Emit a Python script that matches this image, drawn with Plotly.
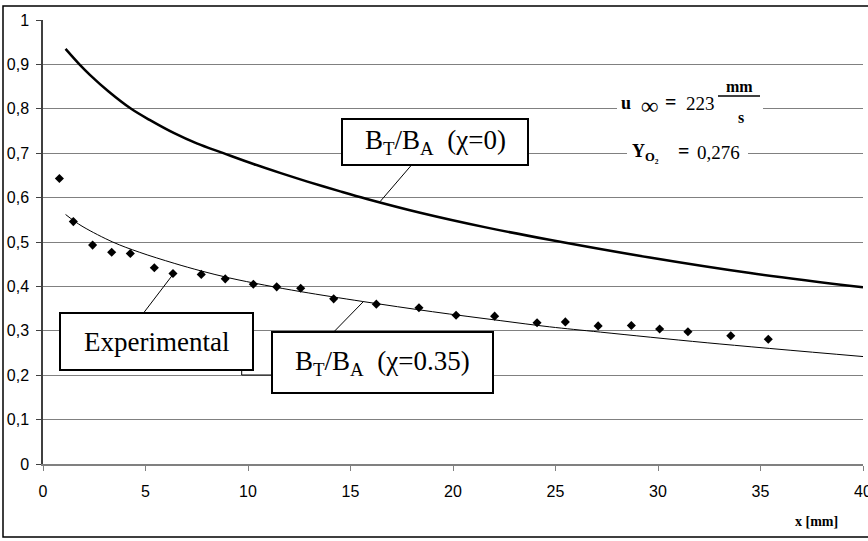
import plotly.graph_objects as go

# ---------------- data ----------------
exp_x = [0.8, 1.48, 2.42, 3.35, 4.26, 5.43, 6.34, 7.72, 8.89, 10.26, 11.4, 12.57,
         14.18, 16.26, 18.34, 20.15, 22.03, 24.1, 25.48, 27.08, 28.7, 30.08, 31.46, 33.55, 35.38]
exp_y = [0.643, 0.546, 0.493, 0.477, 0.474, 0.442, 0.429, 0.427, 0.417, 0.405, 0.399, 0.396,
         0.372, 0.360, 0.352, 0.335, 0.333, 0.318, 0.320, 0.311, 0.312, 0.304, 0.298, 0.289, 0.281]

chi0_x = [1.1, 1.8, 2.3, 3.2, 4.3, 5.2, 6.4, 7.5, 8.8, 10.3, 11.6, 12.9, 14.5, 15.8,
          18.4, 21.6, 24.7, 29.6, 34.5, 40.0]
chi0_y = [0.935, 0.899, 0.876, 0.839, 0.800, 0.775, 0.745, 0.722, 0.700, 0.675, 0.655, 0.636,
          0.614, 0.597, 0.566, 0.533, 0.505, 0.465, 0.430, 0.398]

chi35_x = [1.1, 1.5, 2.0, 3.4, 4.7, 6.4, 7.7, 9.1, 10.8, 12.6, 15.6, 19.0, 22.3, 24.7, 27.2, 32.4, 40.0]
chi35_y = [0.562, 0.548, 0.533, 0.500, 0.477, 0.452, 0.435, 0.419, 0.403, 0.388, 0.366, 0.343,
           0.323, 0.309, 0.297, 0.273, 0.242]

x_ticks = [0, 5, 10, 15, 20, 25, 30, 35, 40]
y_ticks = [0, 0.1, 0.2, 0.3, 0.4, 0.5, 0.6, 0.7, 0.8, 0.9, 1.0]
y_ticktext = ["0", "0,1", "0,2", "0,3", "0,4", "0,5", "0,6", "0,7", "0,8", "0,9", "1"]

# ---------------- layout helpers (pixel -> coords) ----------------
L, R, T, B = 43, 5, 20, 77
W, H = 868, 541
PW, PH = W - L - R, H - T - B
Y0 = H - B


def dx(px):
    return (px - L) / PW * 40


def dy(py):
    return (Y0 - py) / PH


def pxp(px):
    return (px - L) / PW


def pyp(py):
    return (Y0 - py) / PH


SERIF = "Liberation Serif, Times New Roman, serif"
SANS = "Liberation Sans, Arial, sans-serif"

fig = go.Figure()

fig.add_trace(go.Scatter(x=chi0_x, y=chi0_y, mode="lines", line=dict(color="black", width=2.5, shape="spline"),
                         showlegend=False, hoverinfo="skip"))
fig.add_trace(go.Scatter(x=chi35_x, y=chi35_y, mode="lines", line=dict(color="black", width=1, shape="spline"),
                         showlegend=False, hoverinfo="skip"))
fig.add_trace(go.Scatter(x=exp_x, y=exp_y, mode="markers",
                         marker=dict(symbol="diamond", size=7, color="black"),
                         showlegend=False, hoverinfo="skip"))

shapes = []
# outer border
shapes.append(dict(type="rect", xref="paper", yref="paper", x0=pxp(3), x1=pxp(874), y0=pyp(537), y1=pyp(6),
                   line=dict(color="black", width=1.5), fillcolor="rgba(0,0,0,0)", layer="above"))
# white patches behind parameter text
shapes.append(dict(type="rect", xref="x", yref="y", x0=dx(617), x1=dx(763), y0=dy(126), y1=dy(82),
                   line=dict(width=0), fillcolor="white", layer="above"))
shapes.append(dict(type="rect", xref="x", yref="y", x0=dx(627), x1=dx(748), y0=dy(164), y1=dy(141),
                   line=dict(width=0), fillcolor="white", layer="above"))
# fraction bar
shapes.append(dict(type="line", xref="x", yref="y", x0=dx(718), x1=dx(760), y0=dy(96), y1=dy(96),
                   line=dict(color="black", width=1.5), layer="above"))

# pointer lines
for (x0, y0, x1, y1) in [(410.7, 166, 380, 201.7), (144.3, 312, 173.3, 274), (333.7, 332, 363.3, 301.7)]:
    shapes.append(dict(type="line", xref="x", yref="y", x0=dx(x0), y0=dy(y0), x1=dx(x1), y1=dy(y1),
                       line=dict(color="black", width=1), layer="above"))
# small leader stub
shapes.append(dict(type="path", xref="x", yref="y",
                   path=f"M {dx(241.7)},{dy(370)} L {dx(241.7)},{dy(375)} L {dx(272)},{dy(375)}",
                   line=dict(color="black", width=1), layer="above"))

# label boxes
boxes = [(342, 528, 119, 165), (60, 253, 313, 370), (272, 493, 332, 393)]
for (x0, x1, y0, y1) in boxes:
    shapes.append(dict(type="rect", xref="x", yref="y", x0=dx(x0), x1=dx(x1), y0=dy(y1), y1=dy(y0),
                       line=dict(color="black", width=2), fillcolor="white", layer="above"))


def txt(px, py, text, size, ref="x"):
    if ref == "x":
        return dict(x=dx(px), y=dy(py), xref="x", yref="y", showarrow=False, xanchor="center",
                    yanchor="middle", text=text, font=dict(family=SERIF, size=size, color="black"))
    return dict(x=pxp(px), y=pyp(py), xref="paper", yref="paper", showarrow=False, xanchor="center",
                yanchor="middle", text=text, font=dict(family=SERIF, size=size, color="black"))


annotations = [
    txt(435, 142, "B<sub>T</sub>/B<sub>A</sub>\u00a0\u00a0(\u03c7=0)", 27),
    txt(156.5, 341.5, "Experimental", 27),
    txt(382.5, 362.5, "B<sub>T</sub>/B<sub>A</sub>\u00a0\u00a0(\u03c7=0.35)", 27),
    # u_inf = 223 mm/s
    txt(626, 103, "<b>u</b>", 18),
    txt(649, 106, "<b>\u221e</b>", 24),
    txt(670, 102, "<b>=</b>", 20),
    txt(700, 103, "223", 19),
    txt(739, 86, "<b>mm</b>", 16),
    txt(741, 117, "<b>s</b>", 16),
    # Y_O2 = 0,276
    txt(645, 152, "<b>Y<sub>O\u2082</sub></b>", 18),
    txt(683, 151, "<b>=</b>", 20),
    txt(718, 152, "0,276", 19),
    txt(816, 521, "<b>x [mm]</b>", 14, ref="paper"),
]

fig.update_layout(
    width=W, height=H,
    margin=dict(l=L, r=R, t=T, b=B, pad=0, autoexpand=False),
    paper_bgcolor="white", plot_bgcolor="white",
    shapes=shapes, annotations=annotations,
    xaxis=dict(range=[0, 40], tickvals=x_ticks, ticks="outside", ticklen=5, tickcolor="#808080",
               showline=True, linecolor="#808080", linewidth=1.5, showgrid=False, zeroline=False,
               ticklabeloverflow="allow", automargin=False,
               tickfont=dict(family=SANS, size=16, color="black"), ticklabelstandoff=7),
    yaxis=dict(range=[0, 1], tickvals=y_ticks, ticktext=y_ticktext, ticks="outside", ticklen=5,
               tickcolor="#404040", showline=True, linecolor="#404040", linewidth=1.5,
               showgrid=True, gridcolor="#808080", gridwidth=1.2, zeroline=False, automargin=False,
               tickfont=dict(family=SANS, size=16, color="black"), ticklabelstandoff=4),
)

fig.write_html("out.html")
